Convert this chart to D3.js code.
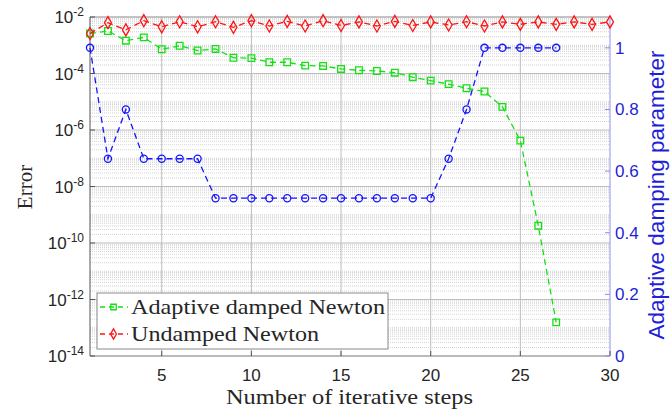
<!DOCTYPE html>
<html>
<head>
<meta charset="utf-8">
<script src="https://cdn.jsdelivr.net/npm/d3@7"></script>
<style>
  body { margin: 0; background: #fff; }
  svg { display: block; }
</style>
</head>
<body>
<svg id="chart" width="670" height="411"></svg>
<script>
// iteration steps
const stepsDamped = d3.range(1, 28);
const stepsUndamped = d3.range(1, 31);

// error of the adaptive damped Newton iteration
const errDamped = [2.6e-3, 3.2e-3, 1.45e-3, 1.9e-3, 7.2e-4, 9.6e-4, 6.5e-4, 7.4e-4, 3.6e-4, 3.5e-4,
  2.5e-4, 2.5e-4, 1.9e-4, 1.85e-4, 1.45e-4, 1.3e-4, 1.23e-4, 1.07e-4, 7.4e-5, 5.6e-5,
  4.2e-5, 3.0e-5, 2.3e-5, 6.6e-6, 4.2e-7, 4.1e-10, 1.55e-13];

// error of the undamped Newton iteration
const errUndamped = [2.6e-3, 6.3e-3, 3.5e-3, 7.4e-3, 4.5e-3, 6.8e-3, 4.5e-3, 6.8e-3, 4.3e-3, 7.4e-3,
  4.8e-3, 7.0e-3, 4.8e-3, 7.4e-3, 5.0e-3, 6.7e-3, 4.8e-3, 7.0e-3, 5.0e-3, 6.7e-3,
  5.2e-3, 6.8e-3, 4.8e-3, 6.7e-3, 5.5e-3, 6.7e-3, 5.5e-3, 6.7e-3, 5.5e-3, 6.7e-3];

// adaptive damping parameter (right axis)
const damping = [1, 0.64, 0.8, 0.64, 0.64, 0.64, 0.64, 0.512, 0.512, 0.512,
  0.512, 0.512, 0.512, 0.512, 0.512, 0.512, 0.512, 0.512, 0.512, 0.512,
  0.64, 0.8, 1, 1, 1, 1, 1];

const xTicks = [5, 10, 15, 20, 25, 30];
const yExps = [-2, -4, -6, -8, -10, -12, -14];
const rTicks = [0, 0.2, 0.4, 0.6, 0.8, 1];

const green = "#14e014", red = "#ff1414", blue = "#1414ff";
const sans = "Liberation Sans, Arial, sans-serif";
const serif = "Liberation Serif, serif";

const svg = d3.select("#chart");
const m = { left: 90, right: 610, top: 17, bottom: 356 };

const x = d3.scaleLinear().domain([1, 30]).range([m.left, m.right]);
const y = d3.scaleLog().domain([1e-14, 1e-2]).range([m.bottom, m.top]);
const yr = d3.scaleLinear().domain([0, 1.1]).range([m.bottom, m.top]);

// minor grid (dotted)
const minor = [];
for (let k = -14; k < -2; k++) {
  for (let j = 1; j <= 9; j++) {
    if (j === 1 && k % 2 === 0) continue;
    minor.push(j * Math.pow(10, k));
  }
}
svg.append("g").selectAll("line").data(minor).join("line")
  .attr("x1", m.left).attr("x2", m.right)
  .attr("y1", d => y(d)).attr("y2", d => y(d))
  .attr("stroke", "#c8c8c8").attr("stroke-width", 0.8)
  .attr("stroke-dasharray", "1 1");

// major grid
svg.append("g").selectAll("line").data(yExps.slice(1, -1)).join("line")
  .attr("x1", m.left).attr("x2", m.right)
  .attr("y1", d => y(Math.pow(10, d))).attr("y2", d => y(Math.pow(10, d)))
  .attr("stroke", "#bdbdbd").attr("stroke-width", 1);
svg.append("g").selectAll("line").data(xTicks.slice(0, -1)).join("line")
  .attr("x1", d => x(d)).attr("x2", d => x(d))
  .attr("y1", m.top).attr("y2", m.bottom)
  .attr("stroke", "#bdbdbd").attr("stroke-width", 1);

// box
svg.append("line").attr("x1", m.left).attr("x2", m.right).attr("y1", m.top).attr("y2", m.top)
  .attr("stroke", "#888").attr("stroke-width", 1);
svg.append("line").attr("x1", m.left).attr("x2", m.right).attr("y1", m.bottom).attr("y2", m.bottom)
  .attr("stroke", "#777").attr("stroke-width", 1);
svg.append("line").attr("x1", m.left).attr("x2", m.left).attr("y1", m.top).attr("y2", m.bottom)
  .attr("stroke", "#555").attr("stroke-width", 1);
svg.append("line").attr("x1", m.right).attr("x2", m.right).attr("y1", m.top).attr("y2", m.bottom)
  .attr("stroke", "#8c8cf0").attr("stroke-width", 1);

// x axis labels
svg.append("g").selectAll("text").data(xTicks).join("text")
  .attr("x", d => x(d)).attr("y", 381)
  .attr("text-anchor", "middle")
  .attr("font-family", sans).attr("font-size", 17)
  .attr("fill", "#262626")
  .text(d => d);
svg.append("g").selectAll("line").data(xTicks).join("line")
  .attr("x1", d => x(d)).attr("x2", d => x(d))
  .attr("y1", m.bottom).attr("y2", m.bottom - 5)
  .attr("stroke", "#555");

// left y axis labels 10^k
const yl = svg.append("g").selectAll("text").data(yExps).join("text")
  .attr("x", 84).attr("y", d => y(Math.pow(10, d)) + 6)
  .attr("text-anchor", "end")
  .attr("font-family", sans)
  .attr("fill", "#262626");
yl.append("tspan").attr("font-size", 17).text("10");
yl.append("tspan").attr("font-size", 12).attr("dy", -7).text(d => d);

svg.append("g").selectAll("line").data(yExps).join("line")
  .attr("x1", m.left).attr("x2", m.left + 5)
  .attr("y1", d => y(Math.pow(10, d))).attr("y2", d => y(Math.pow(10, d)))
  .attr("stroke", "#555");

// right axis
svg.append("g").selectAll("text").data(rTicks).join("text")
  .attr("x", 615).attr("y", d => yr(d) + 6)
  .attr("font-family", sans).attr("font-size", 17)
  .attr("fill", "#1f1fd8")
  .text(d => d);
svg.append("g").selectAll("line").data(rTicks).join("line")
  .attr("x1", m.right).attr("x2", m.right - 5)
  .attr("y1", d => yr(d)).attr("y2", d => yr(d))
  .attr("stroke", "#8c8cf0");

// axis titles
svg.append("text")
  .attr("x", 226).attr("y", 404)
  .attr("font-family", serif).attr("font-size", 21)
  .attr("textLength", 247).attr("lengthAdjust", "spacingAndGlyphs")
  .attr("fill", "#262626")
  .text("Number of iterative steps");
svg.append("text")
  .attr("transform", `translate(32,187) rotate(-90)`)
  .attr("text-anchor", "middle")
  .attr("font-family", serif).attr("font-size", 21)
  .attr("fill", "#262626")
  .text("Error");
svg.append("text")
  .attr("transform", `translate(664,195) rotate(-90)`)
  .attr("text-anchor", "middle")
  .attr("font-family", sans).attr("font-size", 22.5)
  .attr("fill", "#1f1fd8")
  .text("Adaptive damping parameter");

// series
const dash = "6 4";
function drawLine(xs, vs, yScale, color) {
  const line = d3.line().x((d, i) => x(xs[i])).y(d => yScale(d));
  svg.append("path").datum(vs)
    .attr("d", line).attr("fill", "none")
    .attr("stroke", color).attr("stroke-width", 1.3)
    .attr("stroke-dasharray", dash);
}
const sq = d3.symbol().type(d3.symbolSquare).size(44);
const dia = d3.symbol().type(d3.symbolDiamond).size(42);
const circ = d3.symbol().type(d3.symbolCircle).size(40);

function drawMarkers(xs, vs, yScale, color, sym) {
  svg.append("g").selectAll("path").data(vs).join("path")
    .attr("transform", (d, i) => `translate(${x(xs[i])},${yScale(d)})`)
    .attr("d", sym).attr("fill", "none")
    .attr("stroke", color).attr("stroke-width", 1.3);
}

drawLine(stepsDamped, damping, yr, blue);
drawMarkers(stepsDamped, damping, yr, blue, circ);
drawLine(stepsDamped, errDamped, y, green);
drawMarkers(stepsDamped, errDamped, y, green, sq);
drawLine(stepsUndamped, errUndamped, y, red);
drawMarkers(stepsUndamped, errUndamped, y, red, dia);

// legend
const lg = svg.append("g");
lg.append("rect").attr("x", 97).attr("y", 293).attr("width", 291).attr("height", 56)
  .attr("fill", "#fff").attr("stroke", "#8a8a8a").attr("stroke-width", 1);
const entries = [
  { label: "Adaptive damped Newton", w: 254, color: green, sym: d3.symbol().type(d3.symbolSquare).size(30), yy: 307 },
  { label: "Undamped Newton", w: 188, color: red, sym: d3.symbol().type(d3.symbolDiamond).size(30), yy: 334 }
];
entries.forEach(e => {
  lg.append("line").attr("x1", 100).attr("x2", 128).attr("y1", e.yy).attr("y2", e.yy)
    .attr("stroke", e.color).attr("stroke-width", 1.3).attr("stroke-dasharray", "5 4");
  lg.append("path").attr("transform", `translate(113.5,${e.yy})`).attr("d", e.sym)
    .attr("fill", "none").attr("stroke", e.color).attr("stroke-width", 1.3);
  lg.append("text").attr("x", 131).attr("y", e.yy + 7)
    .attr("font-family", serif).attr("font-size", 21)
    .attr("textLength", e.w).attr("lengthAdjust", "spacingAndGlyphs")
    .attr("fill", "#262626").text(e.label);
});
</script>
</body>
</html>
